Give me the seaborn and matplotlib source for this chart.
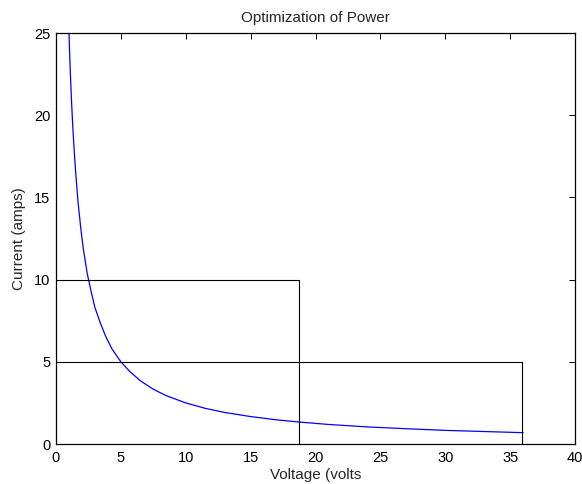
import pandas as pd
import matplotlib
matplotlib.use('Agg')
import matplotlib.pyplot as plt
import seaborn as sns

# curve (volts, amps)
voltage = [1.0, 1.1, 1.2, 1.3, 1.4, 1.5, 1.7, 1.9, 2.1, 2.4, 2.7, 3.0, 3.4, 3.8, 4.3,
           5.0, 5.7, 6.5, 7.5, 8.5, 10, 11.5, 13, 15, 17, 18.7, 21, 24, 27, 30, 33, 36]
current = [25, 22.7, 20.8, 19.2, 17.9, 16.7, 14.7, 13.2, 11.9, 10.4, 9.3, 8.3, 7.4, 6.6, 5.8,
           5.0, 4.4, 3.85, 3.33, 2.94, 2.5, 2.17, 1.92, 1.67, 1.47, 1.34, 1.19, 1.04, 0.93, 0.83, 0.76, 0.69]

# the two boxes
box1_v = [0, 18.7, 18.7]
box1_i = [10, 10, 0]
box2_v = [0, 35.9, 35.9]
box2_i = [5, 5, 0]

xticks = [0, 5, 10, 15, 20, 25, 30, 35, 40]
yticks = [0, 5, 10, 15, 20, 25]

sns.set_theme(style='white')
plt.rcParams['font.family'] = ['Liberation Sans', 'DejaVu Sans']

df = pd.DataFrame({'v': voltage, 'i': current})
b1 = pd.DataFrame({'v': box1_v, 'i': box1_i})
b2 = pd.DataFrame({'v': box2_v, 'i': box2_i})

fig = plt.figure(figsize=(5.82, 4.84), dpi=100)
ax = fig.add_axes([0.0962, 0.0826, 0.892, 0.8492])

sns.lineplot(data=df, x='v', y='i', sort=False, estimator=None, color='#0000ff', lw=0.9, ax=ax)
sns.lineplot(data=b1, x='v', y='i', sort=False, estimator=None, color='black', lw=0.8, ax=ax)
sns.lineplot(data=b2, x='v', y='i', sort=False, estimator=None, color='black', lw=0.8, ax=ax)

ax.set_xlim(0, 40)
ax.set_ylim(0, 25)
ax.set_xticks(xticks)
ax.set_yticks(yticks)
ax.tick_params(direction='in', length=4, width=0.7, labelsize=10.5, colors='black',
               top=True, right=True)
ax.tick_params(axis='x', pad=5)
ax.tick_params(axis='y', pad=4)
for s in ax.spines.values():
    s.set_color('black')
    s.set_linewidth(0.9)

ax.set_title('Optimization of Power', fontsize=11, pad=8)
ax.set_xlabel('Voltage (volts', fontsize=11, labelpad=2)
ax.set_ylabel('Current (amps)', fontsize=11, labelpad=6)

fig.savefig('out.png', dpi=100)
